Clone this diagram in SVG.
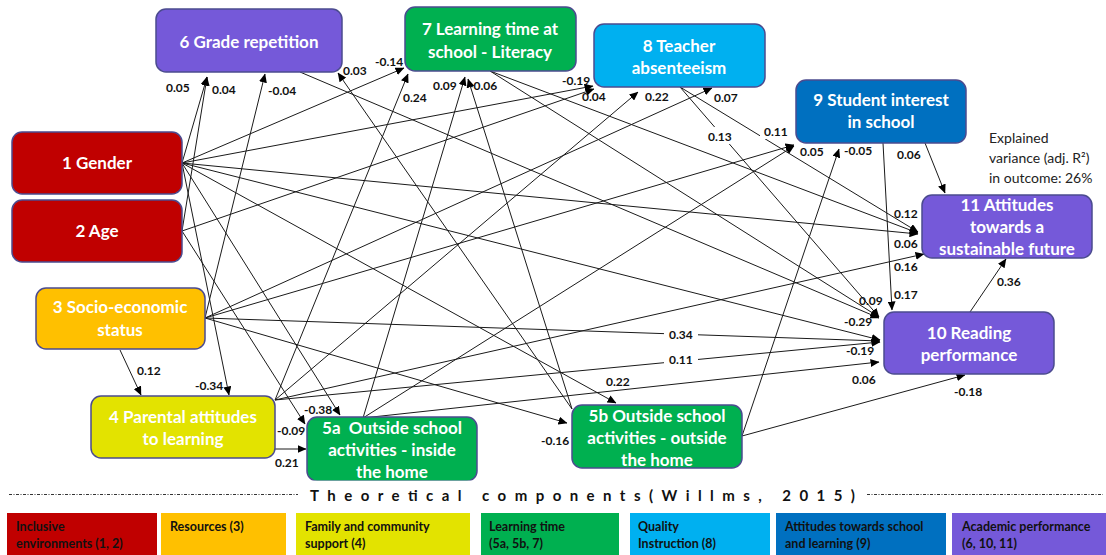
<svg xmlns="http://www.w3.org/2000/svg" width="1106" height="555" viewBox="0 0 1106 555">
  <style>
    .node rect { stroke: #4b4b8f; stroke-width: 1.5; }
    .nt { font-family: Lato, "Open Sans", sans-serif; font-weight: bold; font-size: 17px; fill: #ffffff; text-anchor: middle; }
    .lbl { font-family: Lato, "Open Sans", sans-serif; font-weight: bold; font-size: 12px; fill: #111111; }
    .edge line { stroke: #1a1a1a; stroke-width: 1; marker-end: url(#ah); }
    .lg { font-family: Lato, "Open Sans", sans-serif; font-weight: bold; font-size: 12.5px; fill: #111111; }
    .note { font-family: Lato, "Open Sans", sans-serif; font-size: 14px; fill: #222222; }
    .dash { stroke: #333333; stroke-width: 1; stroke-dasharray: 3 1.5 1 1.5; }
  </style>
  <defs>
    <marker id="ah" markerWidth="9" markerHeight="8" refX="8.5" refY="4" orient="auto" markerUnits="userSpaceOnUse">
      <path d="M0,0 L9,4 L0,8 z" fill="#000000"/>
    </marker>
    <clipPath id="cut5a"><rect x="290" y="400" width="200" height="80.5"/></clipPath>
  </defs>

  <!-- path connectors -->
  <g id="connectors" class="edge">
    <line x1="182" y1="163" x2="207" y2="77"/>
    <line x1="182" y1="231" x2="207" y2="77"/>
    <line x1="205" y1="318" x2="265" y2="74"/>
    <line x1="572" y1="409" x2="338" y2="73"/>
    <line x1="182" y1="163" x2="404" y2="68"/>
    <line x1="275" y1="400" x2="408" y2="74"/>
    <line x1="363" y1="418" x2="465" y2="77"/>
    <line x1="572" y1="409" x2="468" y2="79"/>
    <line x1="182" y1="163" x2="593" y2="86"/>
    <line x1="182" y1="231" x2="594" y2="89"/>
    <line x1="275" y1="400" x2="638" y2="92"/>
    <line x1="205" y1="318" x2="712" y2="88"/>
    <line x1="205" y1="318" x2="794" y2="145"/>
    <line x1="363" y1="418" x2="794" y2="146"/>
    <line x1="742" y1="436" x2="839" y2="149"/>
    <line x1="120" y1="350" x2="141" y2="395"/>
    <line x1="182" y1="163" x2="229" y2="395"/>
    <line x1="182" y1="163" x2="340" y2="415"/>
    <line x1="182" y1="231" x2="305" y2="424"/>
    <line x1="275" y1="449" x2="306" y2="449"/>
    <line x1="182" y1="163" x2="616" y2="403"/>
    <line x1="205" y1="318" x2="567" y2="423"/>
    <line x1="883" y1="143" x2="892" y2="310"/>
    <line x1="205" y1="318" x2="880" y2="341"/>
    <line x1="275" y1="400" x2="880" y2="342"/>
    <line x1="742" y1="436" x2="965" y2="375"/>
    <line x1="680" y1="87" x2="879" y2="317"/>
    <line x1="490" y1="71" x2="879" y2="317"/>
    <line x1="300" y1="72" x2="879" y2="318"/>
    <line x1="182" y1="163" x2="880" y2="340"/>
    <line x1="363" y1="418" x2="879" y2="362"/>
    <line x1="925" y1="143" x2="945" y2="193"/>
    <line x1="680" y1="87" x2="918" y2="232"/>
    <line x1="490" y1="71" x2="918" y2="233"/>
    <line x1="182" y1="163" x2="918" y2="234"/>
    <line x1="275" y1="400" x2="924" y2="254"/>
    <line x1="970" y1="312" x2="1006" y2="259"/>
  </g>

  <!-- coefficient labels -->
  <g id="labels">
    <rect x="664" y="326" width="34" height="16" fill="#ffffff"/>
    <rect x="664" y="351" width="34" height="16" fill="#ffffff"/>
    <rect x="705" y="127" width="32" height="17" fill="#ffffff"/>
    <rect x="760" y="124" width="32" height="15" fill="#ffffff"/>
    <text class="lbl" x="166" y="92">0.05</text>
    <text class="lbl" x="212" y="94">0.04</text>
    <text class="lbl" x="268" y="95">-0.04</text>
    <text class="lbl" x="343" y="75">0.03</text>
    <text class="lbl" x="375" y="66">-0.14</text>
    <text class="lbl" x="403" y="102">0.24</text>
    <text class="lbl" x="433" y="90">0.09</text>
    <text class="lbl" x="469" y="90">-0.06</text>
    <text class="lbl" x="562" y="85">-0.19</text>
    <text class="lbl" x="582" y="101">0.04</text>
    <text class="lbl" x="645" y="101">0.22</text>
    <text class="lbl" x="714" y="102">0.07</text>
    <text class="lbl" x="708" y="141">0.13</text>
    <text class="lbl" x="764" y="136">0.11</text>
    <text class="lbl" x="800" y="156">0.05</text>
    <text class="lbl" x="844" y="155">-0.05</text>
    <text class="lbl" x="897" y="159">0.06</text>
    <text class="lbl" x="894" y="218">0.12</text>
    <text class="lbl" x="894" y="248">0.06</text>
    <text class="lbl" x="894" y="271">0.16</text>
    <text class="lbl" x="997" y="286">0.36</text>
    <text class="lbl" x="894" y="299">0.17</text>
    <text class="lbl" x="859" y="305">0.09</text>
    <text class="lbl" x="844" y="326">-0.29</text>
    <text class="lbl" x="669" y="339">0.34</text>
    <text class="lbl" x="669" y="364">0.11</text>
    <text class="lbl" x="846" y="355">-0.19</text>
    <text class="lbl" x="852" y="384">0.06</text>
    <text class="lbl" x="954" y="396">-0.18</text>
    <text class="lbl" x="137" y="375">0.12</text>
    <text class="lbl" x="195" y="390">-0.34</text>
    <text class="lbl" x="304" y="414">-0.38</text>
    <text class="lbl" x="277" y="435">-0.09</text>
    <text class="lbl" x="275" y="467">0.21</text>
    <text class="lbl" x="606" y="386">0.22</text>
    <text class="lbl" x="541" y="445">-0.16</text>
  </g>

  <!-- model variables -->
  <g id="n1" class="node">
    <rect x="12" y="132" width="170" height="62" rx="10" fill="#c00000"/>
    <text class="nt" x="97" y="169">1 Gender</text>
  </g>
  <g id="n2" class="node">
    <rect x="12" y="200" width="170" height="62" rx="10" fill="#c00000"/>
    <text class="nt" x="97" y="237">2 Age</text>
  </g>
  <g id="n3" class="node">
    <rect x="36" y="288" width="169" height="61" rx="10" fill="#ffc000"/>
    <text class="nt" x="120" y="313">3 Socio-economic</text>
    <text class="nt" x="120" y="336">status</text>
  </g>
  <g id="n4" class="node">
    <rect x="91" y="396" width="184" height="62" rx="10" fill="#e3e300"/>
    <text class="nt" x="183" y="423">4 Parental attitudes</text>
    <text class="nt" x="183" y="445">to learning</text>
  </g>
  <g id="n5a" class="node" clip-path="url(#cut5a)">
    <rect x="307" y="417" width="170" height="64" rx="10" fill="#00b050"/>
    <text class="nt" x="392" y="434" xml:space="preserve">5a  Outside school</text>
    <text class="nt" x="392" y="456">activities - inside</text>
    <text class="nt" x="392" y="478">the home</text>
  </g>
  <g id="n5b" class="node">
    <rect x="572" y="405" width="170" height="63" rx="10" fill="#00b050"/>
    <text class="nt" x="657" y="422">5b Outside school</text>
    <text class="nt" x="657" y="444">activities - outside</text>
    <text class="nt" x="657" y="466">the home</text>
  </g>
  <g id="n6" class="node">
    <rect x="156" y="9" width="186" height="63" rx="10" fill="#7559d9"/>
    <text class="nt" x="249" y="48">6 Grade repetition</text>
  </g>
  <g id="n7" class="node">
    <rect x="405" y="7" width="171" height="64" rx="10" fill="#00b050"/>
    <text class="nt" x="490" y="35">7 Learning time at</text>
    <text class="nt" x="490" y="58">school - Literacy</text>
  </g>
  <g id="n8" class="node">
    <rect x="594" y="24" width="171" height="63" rx="10" fill="#00b0f0"/>
    <text class="nt" x="679" y="52">8 Teacher</text>
    <text class="nt" x="679" y="74">absenteeism</text>
  </g>
  <g id="n9" class="node">
    <rect x="796" y="80" width="170" height="63" rx="10" fill="#0070c0"/>
    <text class="nt" x="881" y="106">9 Student interest</text>
    <text class="nt" x="881" y="128">in school</text>
  </g>
  <g id="n10" class="node">
    <rect x="884" y="312" width="170" height="62" rx="10" fill="#7559d9"/>
    <text class="nt" x="969" y="339">10 Reading</text>
    <text class="nt" x="969" y="361">performance</text>
  </g>
  <g id="n11" class="node">
    <rect x="922" y="195" width="170" height="63" rx="10" fill="#7559d9"/>
    <text class="nt" x="1007" y="211">11 Attitudes</text>
    <text class="nt" x="1007" y="233">towards a</text>
    <text class="nt" x="1007" y="255">sustainable future</text>
  </g>

  <g id="variance-note">
    <text class="note" x="989" y="143">Explained</text>
    <text class="note" x="989" y="163">variance (adj. R²)</text>
    <text class="note" x="989" y="183">in outcome: 26%</text>
  </g>

  <!-- colour key -->
  <g id="key">
    <line class="dash" x1="9" y1="494.5" x2="298" y2="494.5"/>
    <line class="dash" x1="867" y1="494.5" x2="1103" y2="494.5"/>
    <text x="310" y="501" textLength="545" lengthAdjust="spacing" style="font-family: Lato, 'Open Sans', sans-serif; font-weight: bold; font-size: 15px; fill: #111111;">Theoretical components(Willms, 2015)</text>
    <rect x="7" y="513" width="150" height="42" fill="#c00000"/>
    <rect x="161" y="513" width="125" height="42" fill="#ffc000"/>
    <rect x="296" y="513" width="174" height="42" fill="#e3e300"/>
    <rect x="481" y="513" width="138" height="42" fill="#00b050"/>
    <rect x="630" y="513" width="140" height="42" fill="#00b0f0"/>
    <rect x="776" y="513" width="170" height="42" fill="#0070c0"/>
    <rect x="952" y="513" width="154" height="42" fill="#7559d9"/>
    <text class="lg" x="16" y="531">Inclusive</text>
    <text class="lg" x="16" y="548">environments (1, 2)</text>
    <text class="lg" x="170" y="531">Resources (3)</text>
    <text class="lg" x="305" y="531">Family and community</text>
    <text class="lg" x="305" y="548">support (4)</text>
    <text class="lg" x="489" y="531">Learning time</text>
    <text class="lg" x="489" y="548">(5a, 5b, 7)</text>
    <text class="lg" x="638" y="531">Quality</text>
    <text class="lg" x="638" y="548">Instruction (8)</text>
    <text class="lg" x="785" y="531">Attitudes towards school</text>
    <text class="lg" x="785" y="548">and learning (9)</text>
    <text class="lg" x="962" y="531">Academic performance</text>
    <text class="lg" x="962" y="548">(6, 10, 11)</text>
  </g>
</svg>
